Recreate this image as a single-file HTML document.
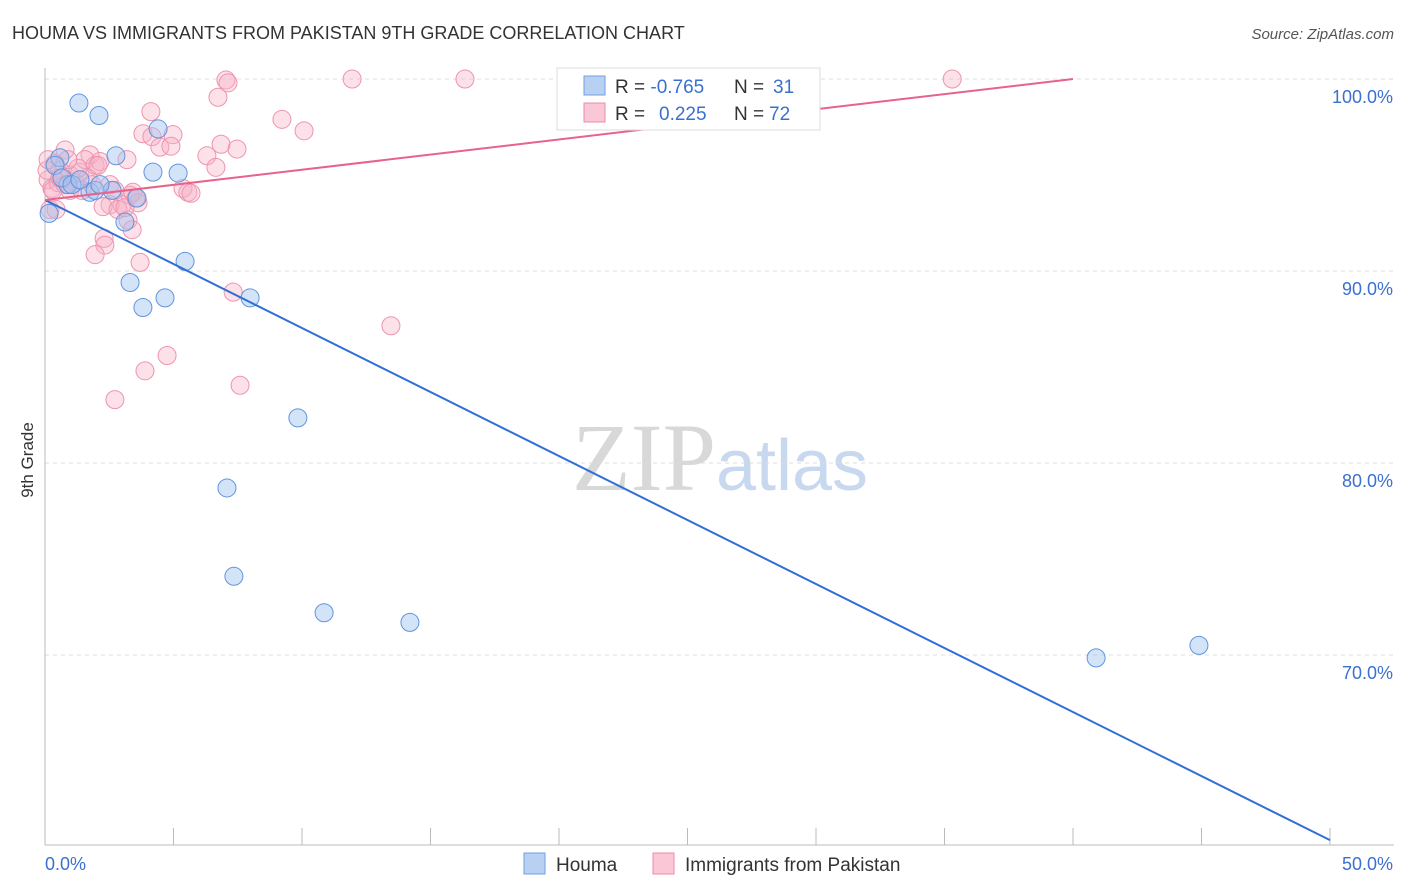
<!DOCTYPE html>
<html><head><meta charset="utf-8"><style>
body{margin:0;background:#fff;font-family:"Liberation Sans",sans-serif}
svg{display:block}
</style></head><body>
<svg id="c" width="1406" height="892" xmlns="http://www.w3.org/2000/svg">
<text x="12" y="39" font-size="18" fill="#333">HOUMA VS IMMIGRANTS FROM PAKISTAN 9TH GRADE CORRELATION CHART</text>
<text x="1394" y="39" font-size="15" fill="#555" font-style="italic" text-anchor="end">Source: ZipAtlas.com</text>
<text x="33" y="460" font-size="17" fill="#333" transform="rotate(-90 33 460)" text-anchor="middle">9th Grade</text>
<text x="720" y="490" font-size="96" fill="#ddd" text-anchor="middle" font-family="Liberation Serif,serif"><tspan fill="#d8d8d8">ZIP</tspan><tspan fill="#c8d8ef" font-family="Liberation Sans,sans-serif" font-size="72">atlas</tspan></text>
<g id="grid"></g><g id="axes"></g><g id="pts"></g><g id="lines"></g>
<g>
<rect x="557" y="68" width="263" height="62" fill="#fff" stroke="#ddd"/>
<rect x="584" y="76" width="21" height="19" fill="#b8d1f3" stroke="#6f9fe0"/>
<rect x="584" y="103" width="21" height="19" fill="#f9c7d5" stroke="#ec8aa8"/>
<text x="615" y="93" font-size="19" fill="#333">R = <tspan fill="#3b6fd0">-0.765</tspan><tspan x="734">N = </tspan><tspan fill="#3b6fd0" x="773">31</tspan></text>
<text x="615" y="120" font-size="19" fill="#333">R = <tspan fill="#3b6fd0" x="659">0.225</tspan><tspan x="734">N = </tspan><tspan fill="#3b6fd0" x="769">72</tspan></text>
</g>
<g>
<rect x="524" y="853" width="21" height="21" fill="#b8d1f3" stroke="#6f9fe0"/>
<text x="556" y="871" font-size="19" fill="#333">Houma</text>
<rect x="653" y="853" width="21" height="21" fill="#f9c7d5" stroke="#ec8aa8"/>
<text x="685" y="871" font-size="19" fill="#333">Immigrants from Pakistan</text>
</g>
</svg>
<script>
const yTicks=[100,90,80,70];
const xTickLabels=["0.0%","50.0%"];
const blueX=[.16,.58,1.32,2.10,2.76,4.40,4.20,5.18,.89,1.75,2.61,3.11,3.58,5.45,3.31,3.81,4.67,7.98,9.84,7.08,7.35,10.86,14.2,40.9,44.9,.39,.66,1.05,1.36,1.95,2.14];
const blueY=[93.0,95.9,98.75,98.1,96.0,97.4,95.15,95.1,94.5,94.1,94.2,92.55,93.8,90.5,89.4,88.1,88.6,88.6,82.35,78.7,74.1,72.2,71.7,69.85,70.5,95.5,94.85,94.5,94.75,94.2,94.5];
const pinkX=[11.95,16.34,35.3,7.04,7.12,6.73,4.12,9.22,10.08,3.81,4.98,4.16,4.47,4.90,6.85,7.47,6.30,6.65,.78,1.75,.39,.58,.97,1.36,1.95,1.56,2.14,3.19,.12,.27,.51,.78,1.17,1.67,1.83,2.53,2.72,3.31,3.42,3.62,3.0,2.53,2.26,2.84,3.23,3.39,2.30,2.33,1.95,3.70,5.37,5.56,5.68,.19,.43,.08,.12,.31,.58,.97,1.44,7.32,13.46,4.75,3.89,7.59,2.72,2.06,1.28,.89,3.11,3.54];
const pinkY=[100,100,100,99.95,99.8,99.05,98.3,97.9,97.3,97.15,97.1,97.0,96.45,96.5,96.6,96.35,96.0,95.4,96.3,96.05,95.6,95.25,95.0,95.15,95.5,95.8,95.7,95.8,94.75,94.3,94.6,94.5,94.6,94.85,94.5,94.5,94.2,93.95,94.1,93.55,93.45,93.45,93.35,93.2,92.65,92.15,91.7,91.35,90.85,90.45,94.3,94.1,94.05,93.2,93.2,95.25,95.8,94.2,94.85,94.2,94.2,88.9,87.15,85.6,84.8,84.05,83.3,95.5,95.35,95.8,93.3,93.8];
const blueLine=[[0,93.7],[50,60.36]];
const pinkLine=[[0,93.7],[40,100]];
const X=v=>45+v*25.7, Y=v=>79+(100-v)*19.2;
const NS="http://www.w3.org/2000/svg";
function mk(p,t,a){const e=document.createElementNS(NS,t);for(const k in a)e.setAttribute(k,a[k]);p.appendChild(e);return e;}
const g=document.getElementById('grid'),ax=document.getElementById('axes'),pts=document.getElementById('pts'),ln=document.getElementById('lines');
yTicks.forEach(t=>{
 const l=mk(g,'line',{x1:45,x2:1394,y1:Y(t),y2:Y(t),stroke:'#ddd','stroke-dasharray':'4,4'});
 
 
 const tx=mk(g,'text',{x:1393,y:Y(t)+24,'font-size':18,fill:'#3b6fd0','text-anchor':'end'});tx.textContent=t.toFixed(1)+'%';
 
 
});
const a1=mk(ax,'line',{x1:45,x2:45,y1:68,y2:845,stroke:'#bbb'});


const a2=mk(ax,'line',{x1:45,x2:1394,y1:845,y2:845,stroke:'#bbb'});


for(let i=0;i<=10;i++){const t=mk(ax,'line',{x1:X(i*5),x2:X(i*5),y1:828,y2:845,stroke:'#bbb'});
 
 }
const l0=mk(ax,'text',{x:45,y:870,'font-size':18,fill:'#3b6fd0'});l0.textContent=xTickLabels[0];


const l1=mk(ax,'text',{x:1393,y:870,'font-size':18,fill:'#3b6fd0','text-anchor':'end'});l1.textContent=xTickLabels[1];


pinkX.forEach((x,i)=>{const c=mk(pts,'circle',{cx:X(x),cy:Y(pinkY[i]),r:9,fill:'rgba(248,175,198,0.38)',stroke:'#ee94b0','stroke-width':1});
 
 });
blueX.forEach((x,i)=>{const c=mk(pts,'circle',{cx:X(x),cy:Y(blueY[i]),r:9,fill:'rgba(160,195,240,0.45)',stroke:'#6195de','stroke-width':1});
 
 });
const bl=mk(ln,'line',{x1:X(blueLine[0][0]),y1:Y(blueLine[0][1]),x2:X(blueLine[1][0]),y2:Y(blueLine[1][1]),stroke:'#2f6fd6','stroke-width':2});


const pl=mk(ln,'line',{x1:X(pinkLine[0][0]),y1:Y(pinkLine[0][1]),x2:X(pinkLine[1][0]),y2:Y(pinkLine[1][1]),stroke:'#e8628c','stroke-width':2});


</script>
</body></html>
